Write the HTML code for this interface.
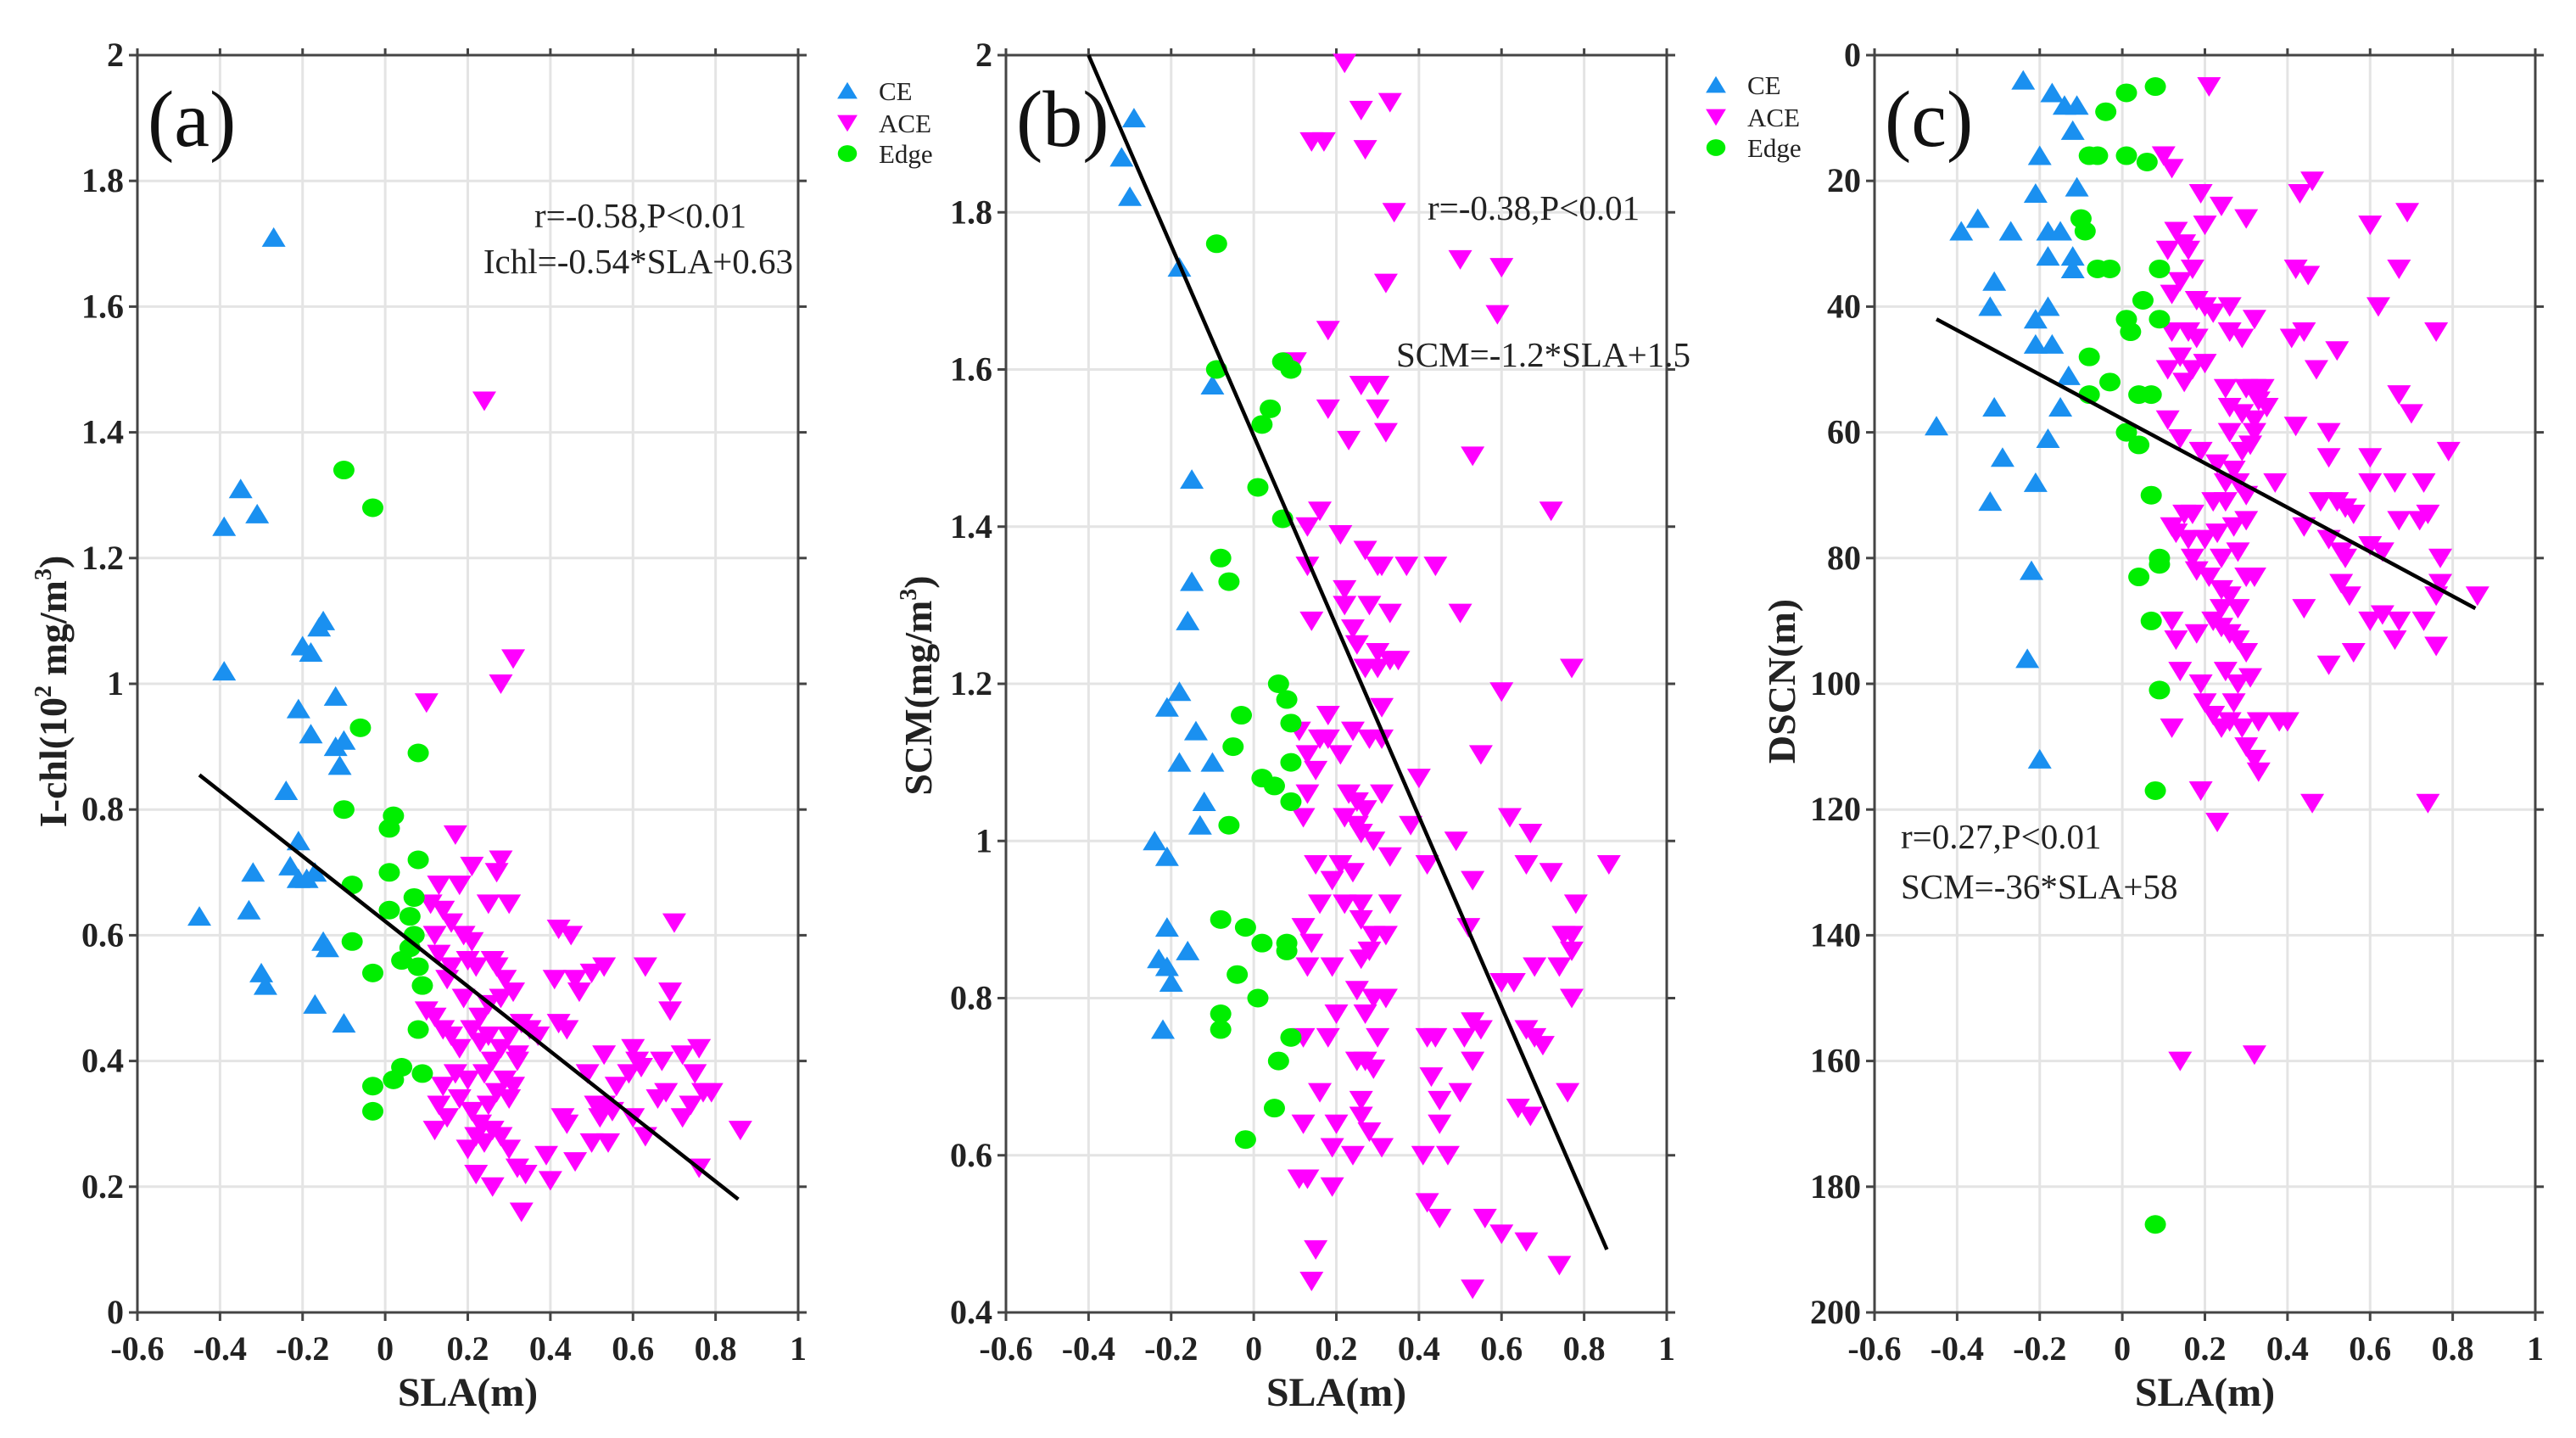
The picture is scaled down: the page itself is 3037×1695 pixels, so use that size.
<!DOCTYPE html>
<html><head><meta charset="utf-8"><style>
html,body{margin:0;padding:0;background:#fff}
svg text{font-family:"Liberation Serif","DejaVu Serif",serif}
</style></head><body>
<svg id="chart" width="3037" height="1690" xmlns="http://www.w3.org/2000/svg" font-family="Liberation Serif, DejaVu Serif, serif"></svg>
<script>
const xTicks=[-0.6,-0.4,-0.2,0,0.2,0.4,0.6,0.8,1];
const xTickLabels=["-0.6","-0.4","-0.2","0","0.2","0.4","0.6","0.8","1"];
const aYTicks=[0,0.2,0.4,0.6,0.8,1,1.2,1.4,1.6,1.8,2];
const aYLabels=["0","0.2","0.4","0.6","0.8","1","1.2","1.4","1.6","1.8","2"];
const bYTicks=[0.4,0.6,0.8,1,1.2,1.4,1.6,1.8,2];
const bYLabels=["0.4","0.6","0.8","1","1.2","1.4","1.6","1.8","2"];
const cYTicks=[0,20,40,60,80,100,120,140,160,180,200];
const cYLabels=["0","20","40","60","80","100","120","140","160","180","200"];
const aCE=[[-0.27,1.71],[-0.35,1.31],[-0.39,1.25],[-0.31,1.27],[-0.39,1.02],[-0.2,1.06],[-0.18,1.05],[-0.16,1.09],[-0.15,1.10],[-0.21,0.96],[-0.18,0.92],[-0.12,0.98],[-0.12,0.90],[-0.10,0.91],[-0.11,0.87],[-0.24,0.83],[-0.21,0.75],[-0.23,0.71],[-0.21,0.69],[-0.19,0.69],[-0.17,0.70],[-0.32,0.70],[-0.45,0.63],[-0.33,0.64],[-0.30,0.54],[-0.29,0.52],[-0.15,0.59],[-0.14,0.58],[-0.17,0.49],[-0.10,0.46]];
const aEdge=[[-0.1,1.34],[-0.03,1.28],[-0.06,0.93],[0.08,0.89],[-0.1,0.80],[0.02,0.79],[0.01,0.77],[0.08,0.72],[0.01,0.70],[-0.08,0.68],[0.07,0.66],[0.01,0.64],[0.06,0.63],[0.07,0.60],[-0.08,0.59],[0.06,0.58],[0.04,0.56],[0.08,0.55],[-0.03,0.54],[0.09,0.52],[0.08,0.45],[0.04,0.39],[0.09,0.38],[0.02,0.37],[-0.03,0.36],[-0.03,0.32]];
const aACE=[[0.24,1.45],[0.31,1.04],[0.28,1.00],[0.10,0.97],[0.17,0.76],[0.21,0.71],[0.27,0.70],[0.28,0.72],[0.13,0.68],[0.18,0.68],[0.11,0.65],[0.14,0.64],[0.25,0.65],[0.30,0.65],[0.16,0.62],[0.19,0.60],[0.21,0.59],[0.12,0.60],[0.13,0.57],[0.16,0.55],[0.20,0.56],[0.22,0.55],[0.26,0.56],[0.27,0.55],[0.29,0.53],[0.31,0.51],[0.28,0.50],[0.25,0.49],[0.23,0.47],[0.19,0.50],[0.15,0.53],[0.10,0.48],[0.12,0.47],[0.14,0.45],[0.16,0.44],[0.18,0.42],[0.21,0.45],[0.23,0.43],[0.25,0.44],[0.28,0.42],[0.30,0.44],[0.33,0.46],[0.35,0.45],[0.37,0.44],[0.32,0.41],[0.26,0.40],[0.24,0.38],[0.20,0.37],[0.17,0.38],[0.14,0.36],[0.13,0.33],[0.15,0.31],[0.12,0.29],[0.18,0.34],[0.21,0.32],[0.23,0.30],[0.25,0.33],[0.27,0.35],[0.29,0.37],[0.30,0.34],[0.31,0.36],[0.32,0.40],[0.22,0.28],[0.24,0.27],[0.26,0.29],[0.28,0.28],[0.30,0.26],[0.20,0.26],[0.22,0.22],[0.26,0.20],[0.32,0.23],[0.34,0.22],[0.33,0.16],[0.39,0.25],[0.40,0.21],[0.43,0.31],[0.46,0.24],[0.44,0.30],[0.42,0.61],[0.45,0.60],[0.41,0.53],[0.46,0.53],[0.47,0.51],[0.50,0.54],[0.53,0.55],[0.42,0.46],[0.44,0.45],[0.49,0.38],[0.51,0.33],[0.52,0.31],[0.53,0.33],[0.55,0.32],[0.50,0.27],[0.54,0.27],[0.53,0.41],[0.56,0.36],[0.59,0.38],[0.60,0.42],[0.61,0.40],[0.62,0.39],[0.60,0.31],[0.63,0.28],[0.63,0.55],[0.67,0.40],[0.66,0.34],[0.68,0.35],[0.70,0.62],[0.69,0.51],[0.69,0.48],[0.72,0.41],[0.76,0.42],[0.75,0.38],[0.74,0.33],[0.72,0.31],[0.77,0.35],[0.79,0.35],[0.76,0.23],[0.86,0.29]];
const bCE=[[-0.29,1.92],[-0.32,1.87],[-0.30,1.82],[-0.18,1.73],[-0.10,1.58],[-0.15,1.46],[-0.15,1.33],[-0.16,1.28],[-0.18,1.19],[-0.21,1.17],[-0.14,1.14],[-0.18,1.10],[-0.10,1.10],[-0.12,1.05],[-0.13,1.02],[-0.24,1.00],[-0.21,0.98],[-0.21,0.89],[-0.23,0.85],[-0.21,0.84],[-0.16,0.86],[-0.20,0.82],[-0.22,0.76]];
const bEdge=[[-0.09,1.76],[-0.09,1.60],[0.07,1.61],[0.09,1.60],[0.04,1.55],[0.02,1.53],[0.01,1.45],[0.07,1.41],[-0.08,1.36],[-0.06,1.33],[0.06,1.20],[0.08,1.18],[-0.03,1.16],[0.09,1.15],[-0.05,1.12],[0.02,1.08],[0.05,1.07],[0.09,1.10],[0.09,1.05],[-0.06,1.02],[-0.08,0.90],[-0.02,0.89],[0.02,0.87],[0.08,0.87],[0.08,0.86],[-0.04,0.83],[0.01,0.80],[-0.08,0.78],[-0.08,0.76],[0.09,0.75],[0.06,0.72],[0.05,0.66],[-0.02,0.62]];
const bACE=[[0.22,1.99],[0.26,1.93],[0.33,1.94],[0.14,1.89],[0.17,1.89],[0.27,1.88],[0.34,1.80],[0.50,1.74],[0.60,1.73],[0.32,1.71],[0.59,1.67],[0.18,1.65],[0.10,1.61],[0.26,1.58],[0.30,1.58],[0.30,1.55],[0.18,1.55],[0.32,1.52],[0.23,1.51],[0.53,1.49],[0.72,1.42],[0.16,1.42],[0.13,1.40],[0.21,1.39],[0.27,1.37],[0.30,1.35],[0.31,1.35],[0.37,1.35],[0.44,1.35],[0.13,1.35],[0.22,1.32],[0.22,1.30],[0.28,1.30],[0.33,1.29],[0.50,1.29],[0.14,1.28],[0.24,1.27],[0.25,1.25],[0.30,1.24],[0.30,1.22],[0.33,1.23],[0.35,1.23],[0.27,1.22],[0.77,1.22],[0.60,1.19],[0.31,1.17],[0.18,1.16],[0.16,1.13],[0.11,1.14],[0.18,1.13],[0.24,1.14],[0.28,1.13],[0.31,1.13],[0.21,1.11],[0.13,1.11],[0.15,1.09],[0.55,1.11],[0.40,1.08],[0.31,1.06],[0.13,1.06],[0.23,1.06],[0.25,1.05],[0.27,1.04],[0.22,1.03],[0.12,1.03],[0.25,1.02],[0.26,1.01],[0.29,1.00],[0.62,1.03],[0.67,1.01],[0.38,1.02],[0.49,1.00],[0.15,0.97],[0.21,0.97],[0.24,0.96],[0.33,0.98],[0.42,0.97],[0.66,0.97],[0.72,0.96],[0.86,0.97],[0.53,0.95],[0.19,0.95],[0.26,0.92],[0.22,0.92],[0.16,0.92],[0.33,0.92],[0.78,0.92],[0.12,0.89],[0.26,0.90],[0.29,0.88],[0.32,0.88],[0.52,0.89],[0.75,0.88],[0.77,0.88],[0.14,0.87],[0.26,0.85],[0.28,0.86],[0.13,0.84],[0.19,0.84],[0.68,0.84],[0.74,0.84],[0.77,0.86],[0.60,0.82],[0.63,0.82],[0.25,0.81],[0.29,0.80],[0.32,0.80],[0.77,0.80],[0.27,0.78],[0.20,0.78],[0.12,0.75],[0.18,0.75],[0.30,0.75],[0.42,0.75],[0.44,0.75],[0.51,0.75],[0.53,0.77],[0.55,0.76],[0.66,0.76],[0.68,0.75],[0.70,0.74],[0.25,0.72],[0.27,0.72],[0.29,0.71],[0.43,0.70],[0.53,0.72],[0.16,0.68],[0.26,0.67],[0.45,0.67],[0.50,0.68],[0.76,0.68],[0.12,0.64],[0.20,0.64],[0.26,0.65],[0.28,0.63],[0.45,0.64],[0.64,0.66],[0.67,0.65],[0.19,0.61],[0.24,0.60],[0.31,0.61],[0.41,0.60],[0.47,0.60],[0.11,0.57],[0.13,0.57],[0.19,0.56],[0.42,0.54],[0.45,0.52],[0.56,0.52],[0.60,0.50],[0.66,0.49],[0.74,0.46],[0.15,0.48],[0.14,0.44],[0.53,0.43]];
const cCE=[[-0.24,4],[-0.17,6],[-0.14,8],[-0.11,8],[-0.12,12],[-0.20,16],[-0.21,22],[-0.11,21],[-0.39,28],[-0.35,26],[-0.27,28],[-0.18,28],[-0.15,28],[-0.18,32],[-0.12,32],[-0.12,34],[-0.31,36],[-0.32,40],[-0.18,40],[-0.21,42],[-0.21,46],[-0.17,46],[-0.13,51],[-0.15,56],[-0.31,56],[-0.45,59],[-0.18,61],[-0.29,64],[-0.21,68],[-0.32,71],[-0.22,82],[-0.23,96],[-0.20,112]];
const cEdge=[[0.08,5],[0.01,6],[-0.04,9],[-0.08,16],[-0.06,16],[0.01,16],[0.06,17],[-0.10,26],[-0.09,28],[-0.06,34],[-0.03,34],[0.09,34],[0.05,39],[0.01,42],[0.09,42],[0.02,44],[-0.08,48],[-0.03,52],[-0.08,54],[0.04,54],[0.07,54],[0.01,60],[0.04,62],[0.07,70],[0.09,80],[0.09,81],[0.04,83],[0.07,90],[0.09,101],[0.08,117],[0.08,186]];
const cACE=[[0.21,5],[0.10,16],[0.12,18],[0.19,22],[0.24,24],[0.30,26],[0.20,27],[0.43,22],[0.46,20],[0.60,27],[0.69,25],[0.13,28],[0.15,30],[0.16,31],[0.11,31],[0.17,34],[0.14,36],[0.12,38],[0.18,39],[0.20,40],[0.22,41],[0.26,40],[0.32,42],[0.42,34],[0.45,35],[0.62,40],[0.67,34],[0.12,44],[0.16,44],[0.18,45],[0.26,44],[0.29,45],[0.41,45],[0.44,44],[0.52,47],[0.47,50],[0.76,44],[0.14,48],[0.17,50],[0.20,49],[0.11,50],[0.15,52],[0.25,53],[0.30,53],[0.32,53],[0.34,53],[0.33,55],[0.29,57],[0.26,56],[0.32,58],[0.35,56],[0.67,54],[0.70,57],[0.11,58],[0.14,61],[0.19,63],[0.26,60],[0.29,63],[0.31,62],[0.42,59],[0.50,60],[0.32,60],[0.23,65],[0.27,66],[0.25,68],[0.28,68],[0.30,70],[0.25,71],[0.22,71],[0.50,64],[0.60,64],[0.79,63],[0.37,68],[0.60,68],[0.66,68],[0.73,68],[0.48,71],[0.52,71],[0.54,72],[0.56,73],[0.67,74],[0.72,74],[0.74,73],[0.12,75],[0.15,73],[0.17,73],[0.23,76],[0.27,75],[0.30,74],[0.20,77],[0.16,77],[0.13,76],[0.44,75],[0.50,77],[0.53,79],[0.54,80],[0.60,78],[0.63,79],[0.77,80],[0.17,80],[0.18,82],[0.24,80],[0.28,79],[0.21,83],[0.24,85],[0.26,86],[0.30,83],[0.32,83],[0.28,88],[0.24,88],[0.53,84],[0.55,86],[0.77,84],[0.76,86],[0.86,86],[0.44,88],[0.22,90],[0.12,90],[0.24,91],[0.26,92],[0.28,93],[0.13,93],[0.18,92],[0.30,95],[0.60,90],[0.63,89],[0.66,93],[0.67,90],[0.73,90],[0.76,94],[0.56,95],[0.50,97],[0.14,98],[0.19,100],[0.25,98],[0.28,100],[0.31,99],[0.20,103],[0.27,103],[0.22,105],[0.24,107],[0.26,106],[0.29,107],[0.33,106],[0.38,106],[0.40,106],[0.12,107],[0.30,110],[0.32,112],[0.33,114],[0.19,117],[0.23,122],[0.46,119],[0.74,119],[0.14,160],[0.32,159]];
const aFit=[[-0.45,0.855],[0.855,0.18]];
const bFit=[[-0.40,2.0],[0.855,0.48]];
const cFit=[[-0.45,42],[0.855,88]];

const NS="http://www.w3.org/2000/svg";
const svg=document.getElementById('chart');
const FF='"Liberation Serif","DejaVu Serif",serif';
function mk(tag,attrs,parent,text){const e=document.createElementNS(NS,tag);for(const k in attrs)e.setAttribute(k,attrs[k]);if(tag==='text')e.style.fontFamily=FF;if(text!==undefined)e.textContent=text;(parent||svg).appendChild(e);return e;}
const BLUE="#1a90f0",MAG="#ff00ff",GRN="#00ee00";
function up(g,x,y,s){return mk('polygon',{points:`${x},${y-12*s} ${x-14*s},${y+11*s} ${x+14*s},${y+11*s}`,fill:BLUE},g);}
function down(g,x,y,s){return mk('polygon',{points:`${x-14*s},${y-11*s} ${x+14*s},${y-11*s} ${x},${y+12*s}`,fill:MAG},g);}
function dot(g,x,y,s){return mk('ellipse',{cx:x,cy:y,rx:12.5*s,ry:11*s,fill:GRN},g);}

function panel(cfg){
  const L=cfg.left,R=cfg.left+779,T=65,B=1547;
  const sx=v=>L+(v+0.6)/1.6*(R-L);
  const sy=v=>cfg.inv? T+(v-cfg.y0)/(cfg.y1-cfg.y0)*(B-T) : B-(v-cfg.y0)/(cfg.y1-cfg.y0)*(B-T);
  const g=mk('g',{});
  
  
  const grid=mk('g',{},g);
  
  
  xTicks.forEach(t=>mk('line',{x1:sx(t),x2:sx(t),y1:T,y2:B,stroke:'#e4e4e4','stroke-width':3},grid));
  cfg.yt.forEach(t=>mk('line',{x1:L,x2:R,y1:sy(t),y2:sy(t),stroke:'#e4e4e4','stroke-width':3},grid));
  const fr=mk('rect',{x:L,y:T,width:R-L,height:B-T,fill:'none',stroke:'#444','stroke-width':3},g);
  
  
  const xt=mk('g',{},g);
  
  
  xTicks.forEach((t,i)=>{
    mk('line',{x1:sx(t),x2:sx(t),y1:B,y2:B+10,stroke:'#444','stroke-width':3},xt);
    mk('line',{x1:sx(t),x2:sx(t),y1:T,y2:T-8,stroke:'#444','stroke-width':3},xt);
    const tx=mk('text',{x:sx(t),y:1603,'text-anchor':'middle','font-size':40,'font-weight':'bold',fill:'#222'},xt,xTickLabels[i]);
    
    
  });
  const xl=mk('text',{x:(L+R)/2,y:1657,'text-anchor':'middle','font-size':48,'font-weight':'bold',fill:'#222'},g,'SLA(m)');
  
  
  const yt=mk('g',{},g);
  
  
  cfg.yt.forEach((t,i)=>{
    mk('line',{x1:L-10,x2:L,y1:sy(t),y2:sy(t),stroke:'#444','stroke-width':3},yt);
    mk('line',{x1:R,x2:R+10,y1:sy(t),y2:sy(t),stroke:'#444','stroke-width':3},yt);
    const tx=mk('text',{x:L-16,y:sy(t)+13,'text-anchor':'end','font-size':40,'font-weight':'bold',fill:'#222'},yt,cfg.yl[i]);
    
    
  });
  const yl=mk('text',{x:cfg.ylx,y:cfg.yly,'text-anchor':'middle','font-size':46,'font-weight':'bold',fill:'#222',transform:`rotate(-90 ${cfg.ylx} ${cfg.yly})`},g);
  
  
  yl.innerHTML=cfg.ytitle;
  const pts=mk('g',{},g);
  
  
  cfg.ce.forEach(p=>{const e=up(pts,sx(p[0]),sy(p[1]),1);});
  cfg.ace.forEach(p=>{const e=down(pts,sx(p[0]),sy(p[1]),1);});
  cfg.edge.forEach(p=>{const e=dot(pts,sx(p[0]),sy(p[1]),1);});
  const fl=mk('line',{x1:sx(cfg.fit[0][0]),y1:sy(cfg.fit[0][1]),x2:sx(cfg.fit[1][0]),y2:sy(cfg.fit[1][1]),stroke:'#000','stroke-width':4.5},g);
  
  
  const pl=mk('text',{x:L+12,y:172,'font-size':94,fill:'#111'},g,cfg.label);
  
  
  cfg.ann.forEach(a=>{const t=mk('text',{x:a[0],y:a[1],'text-anchor':a[3]||'start','font-size':41,fill:'#222'},g,a[2]);});
  if(cfg.legY){
    const lg=mk('g',{},g);
    
    
    const lx=R+58, ly=cfg.legY;
    up(lg,lx,ly,0.85); down(lg,lx,ly+38,0.85); dot(lg,lx,ly+74,0.9);
    [['CE',0],['ACE',38],['Edge',74]].forEach(a=>{const t=mk('text',{x:lx+37,y:ly+a[1]+11,'font-size':31,fill:'#222'},lg,a[0]);});
  }
}
panel({name:'panel-a',left:162,y0:0,y1:2,yt:aYTicks,yl:aYLabels,ce:aCE,ace:aACE,edge:aEdge,fit:aFit,label:'(a)',ylx:78,yly:815,
  ytitle:'I-chl(10<tspan font-size="28" dy="-18">2</tspan><tspan dy="18"> mg/m</tspan><tspan font-size="28" dy="-18">3</tspan><tspan dy="18">)</tspan>',
  ann:[[755,268,'r=-0.58,P<0.01','middle'],[935,322,'Ichl=-0.54*SLA+0.63','end']],legY:107});
panel({name:'panel-b',left:1186,y0:0.4,y1:2,yt:bYTicks,yl:bYLabels,ce:bCE,ace:bACE,edge:bEdge,fit:bFit,label:'(b)',ylx:1098,yly:808,
  ytitle:'SCM(mg/m<tspan font-size="28" dy="-18">3</tspan><tspan dy="18">)</tspan>',
  ann:[[1683,259,'r=-0.38,P<0.01'],[1646,432,'SCM=-1.2*SLA+1.5']],legY:100});
panel({name:'panel-c',left:2210,inv:true,y0:0,y1:200,yt:cYTicks,yl:cYLabels,ce:cCE,ace:cACE,edge:cEdge,fit:cFit,label:'(c)',ylx:2116,yly:803,
  ytitle:'DSCN(m)',
  ann:[[2241,1000,'r=0.27,P<0.01'],[2241,1059,'SCM=-36*SLA+58']],legY:0});
</script>
</body></html>
